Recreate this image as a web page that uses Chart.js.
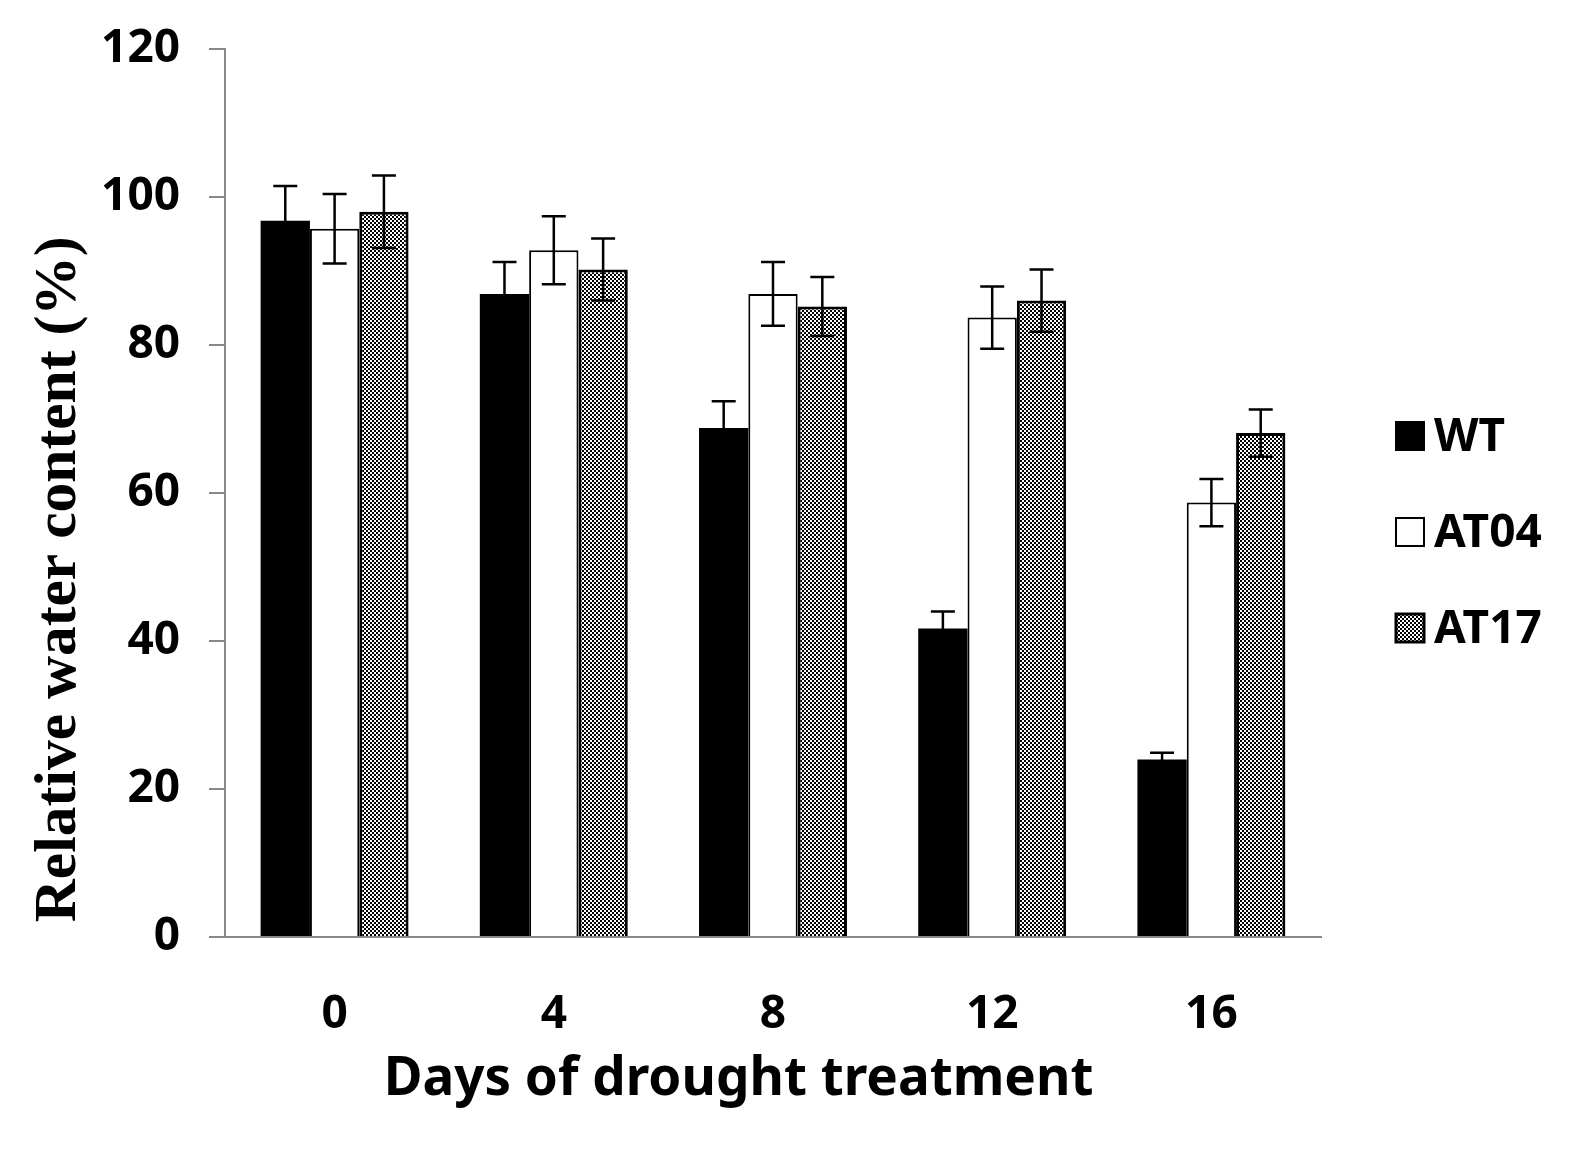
<!DOCTYPE html>
<html>
<head>
<meta charset="utf-8">
<script src="https://cdn.jsdelivr.net/npm/chart.js@4"></script>
<style>
    html, body { margin: 0; padding: 0; background: #fff; }
    #wrap { width: 1583px; height: 1158px; }
</style>
</head>
<body>
<div id="wrap"><canvas id="rwcChart"></canvas></div>
<script>
const days = ['0', '4', '8', '12', '16'];
const wtValues = [96.8, 86.9, 68.8, 41.7, 24.0];
const wtErrors = [4.7, 4.3, 3.6, 2.3, 0.9];
const at04Values = [95.7, 92.8, 86.9, 83.7, 58.7];
const at04Errors = [4.7, 4.6, 4.3, 4.2, 3.2];
const at17Values = [98.0, 90.2, 85.2, 86.0, 68.1];
const at17Errors = [4.9, 4.2, 4.0, 4.2, 3.2];
const yTicks = [0, 20, 40, 60, 80, 100, 120];

const tickFont = { family: 'Noto Sans', size: 46, weight: 'bold' };

// fine black/white checker used for AT17
function checker() {
    const c = document.createElement('canvas');
    c.width = 4;
    c.height = 4;
    const g = c.getContext('2d');
    g.fillStyle = '#fff';
    g.fillRect(0, 0, 4, 4);
    g.fillStyle = '#000';
    g.fillRect(0, 0, 2, 2);
    g.fillRect(2, 2, 2, 2);
    return g.createPattern(c, 'repeat');
}

const errorBars = {
    id: 'errorBars',
    afterDatasetsDraw(chart) {
        const ctx = chart.ctx;
        const y = chart.scales.y;
        ctx.save();
        ctx.strokeStyle = '#000';
        ctx.lineWidth = 2.5;
        chart.data.datasets.forEach((ds, i) => {
            chart.getDatasetMeta(i).data.forEach((bar, j) => {
                const top = y.getPixelForValue(ds.data[j] + ds.errors[j]);
                const bot = y.getPixelForValue(ds.data[j] - ds.errors[j]);
                ctx.beginPath();
                ctx.moveTo(bar.x, top);
                ctx.lineTo(bar.x, bot);
                ctx.moveTo(bar.x - 12, top);
                ctx.lineTo(bar.x + 12, top);
                ctx.moveTo(bar.x - 12, bot);
                ctx.lineTo(bar.x + 12, bot);
                ctx.stroke();
            });
        });
        ctx.restore();
    },
};

const sideLegend = {
    id: 'sideLegend',
    afterDraw(chart) {
        const ctx = chart.ctx;
        const area = chart.chartArea;
        const x = area.right + 75;
        let cy = (area.top + area.bottom) / 2 - 57;
        ctx.save();
        ctx.font = 'bold 46px "Noto Sans"';
        ctx.textBaseline = 'middle';
        chart.data.datasets.forEach((ds) => {
            ctx.fillStyle = ds.backgroundColor;
            ctx.fillRect(x, cy - 14, 28, 28);
            ctx.strokeStyle = '#000';
            ctx.lineWidth = ds.borderWidth || 2;
            ctx.strokeRect(x, cy - 14, 28, 28);
            ctx.fillStyle = '#000';
            ctx.fillText(ds.label, x + 38, cy + 2);
            cy += 96;
        });
        ctx.restore();
    },
};

new Chart(document.getElementById('rwcChart'), {
    type: 'bar',
    data: {
        labels: days,
        datasets: [
            {
                label: 'WT',
                data: wtValues,
                errors: wtErrors,
                backgroundColor: '#000',
                borderColor: '#000',
                borderWidth: 0,
            },
            {
                label: 'AT04',
                data: at04Values,
                errors: at04Errors,
                backgroundColor: '#fff',
                borderColor: '#000',
                borderWidth: 2,
            },
            {
                label: 'AT17',
                data: at17Values,
                errors: at17Errors,
                backgroundColor: checker(),
                borderColor: '#000',
                borderWidth: 3,
            },
        ],
    },
    options: {
        responsive: true,
        maintainAspectRatio: false,
        animation: false,
        datasets: {
            bar: {
                categoryPercentage: 0.675,
                barPercentage: 1.0,
            },
        },
        layout: {
            padding: { left: 10, right: 262, top: 49, bottom: 20 },
        },
        plugins: {
            legend: { display: false },
            tooltip: { enabled: false },
        },
        scales: {
            x: {
                grid: { display: false, drawTicks: false },
                border: { display: true, color: '#888', width: 2 },
                ticks: { color: '#000', font: tickFont, padding: 50, maxRotation: 0, minRotation: 0 },
                title: {
                    display: true,
                    text: 'Days of drought treatment     ',
                    color: '#000',
                    font: { family: 'Noto Sans', size: 53, weight: 'bold' },
                    padding: { top: 0, bottom: 26 },
                },
                afterFit: (scale) => { scale.height = 201; },
            },
            y: {
                min: 0,
                max: 120,
                afterBuildTicks: (scale) => { scale.ticks = yTicks.map((v) => ({ value: v })); },
                grid: { drawOnChartArea: false, color: '#888', lineWidth: 2, tickLength: 16 },
                border: { color: '#888', width: 2 },
                ticks: { color: '#000', font: tickFont, padding: 29 },
                title: {
                    display: true,
                    align: 'start',
                    text: ' Relative water content (%)',
                    color: '#000',
                    font: { family: 'Liberation Serif', size: 59.5, weight: 'bold' },
                    padding: { top: 14, bottom: 0 },
                },
                afterFit: (scale) => {
                    scale.width = 215;
                    scale.paddingTop = 0;
                    scale.paddingBottom = 0;
                },
            },
        },
    },
    plugins: [errorBars, sideLegend],
});
</script>
</body>
</html>
